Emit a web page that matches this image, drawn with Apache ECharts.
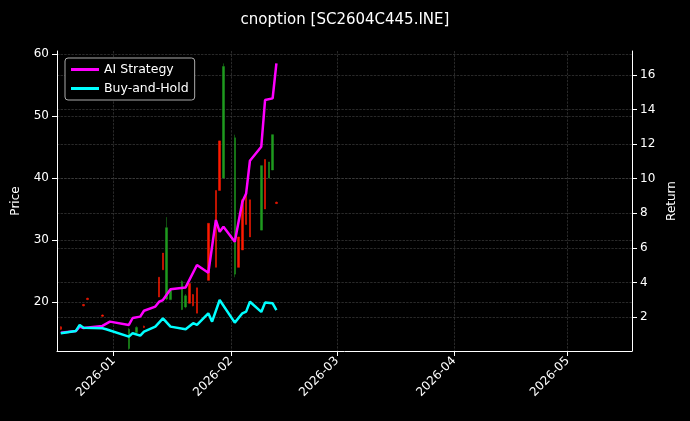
<!DOCTYPE html><html><head><meta charset="utf-8"><script src="https://cdn.jsdelivr.net/npm/echarts@6/dist/echarts.min.js"></script>
<style>html,body{margin:0;background:#000}#c{width:690px;height:421px}</style></head><body><div id="c"></div><script>
const candleDates=['2025-12-18','2025-12-24','2025-12-25','2025-12-29','2026-01-05','2026-01-07','2026-01-09','2026-01-13','2026-01-14','2026-01-15','2026-01-16','2026-01-19','2026-01-20','2026-01-21','2026-01-22','2026-01-23','2026-01-26','2026-01-28','2026-01-29','2026-01-30','2026-02-02','2026-02-03','2026-02-04','2026-02-05','2026-02-06','2026-02-09','2026-02-10','2026-02-11','2026-02-12','2026-02-13'];
// [open, close, low, high]
const candleOHLC=[[16,15.6,15.5,16.1],[19.6,19.4,19.3,19.7],[20.6,20.4,20.3,20.7],[17.9,17.7,17.6,18],[12.5,15.6,12.3,15.8],[15.1,15.9,15,16.1],[16.1,15.9,15.8,16.2],[24,20.8,20.8,24],[27.9,25.2,25.2,27.9],[20.5,32,20.3,33.7],[20.4,22,20.3,22],[18.8,23.3,18.7,23.5],[19.2,21,19,21.3],[23,19.8,19.8,23],[21.2,19.4,19.3,21.3],[22.3,18.2,18.2,22.3],[32.7,23.5,23.5,32.7],[38,25.6,25.6,38],[46,38,38,46],[40,58,40,58.5],[24.5,46.5,24,47],[30.5,25.6,25.6,30.5],[36.5,28.4,28.4,36.5],[37.2,32.5,32.5,37.2],[36.5,30.5,30.5,36.5],[31.6,42,31.6,42],[43,35,35,43],[40,42.6,40,42.6],[41.3,47,41.3,47],[36.1,35.9,35.8,36.2]];
const aiDates=['2025-12-18','2025-12-22','2025-12-23','2025-12-24','2025-12-29','2025-12-31','2026-01-05','2026-01-06','2026-01-08','2026-01-09','2026-01-12','2026-01-13','2026-01-14','2026-01-16','2026-01-20','2026-01-23','2026-01-26','2026-01-28','2026-01-29','2026-01-30','2026-02-02','2026-02-04','2026-02-05','2026-02-06','2026-02-09','2026-02-10','2026-02-12','2026-02-13'];
const aiReturn=[1.09,1.19,1.44,1.36,1.48,1.73,1.54,1.94,2.02,2.36,2.60,2.88,2.98,3.60,3.71,5.01,4.56,7.61,6.93,7.22,6.35,8.67,9.15,11.04,11.85,14.55,14.65,16.67];
const bhDates=['2025-12-18','2025-12-22','2025-12-23','2025-12-24','2025-12-29','2025-12-30','2026-01-05','2026-01-06','2026-01-08','2026-01-09','2026-01-12','2026-01-14','2026-01-16','2026-01-20','2026-01-22','2026-01-23','2026-01-26','2026-01-27','2026-01-29','2026-02-02','2026-02-04','2026-02-05','2026-02-06','2026-02-09','2026-02-10','2026-02-12','2026-02-13'];
const bhReturn=[1.06,1.19,1.54,1.38,1.35,1.29,0.86,1.06,0.92,1.15,1.44,1.92,1.44,1.29,1.64,1.54,2.21,1.73,2.98,1.67,2.21,2.31,2.88,2.29,2.83,2.79,2.40];
const priceTicks=[20,30,40,50,60];
const returnTicks=[2,4,6,8,10,12,14,16];
const ch=echarts.init(document.getElementById('c'));
const grid={lineStyle:{color:'#444',type:'dashed',width:0.6}};
ch.setOption({backgroundColor:'#000',animation:false,
title:{text:'cnoption [SC2604C445.INE]',left:'center',top:8,textStyle:{color:'#fff',fontSize:15,fontWeight:'normal',fontFamily:'DejaVu Sans'}},
legend:{left:65,top:58,orient:'vertical',backgroundColor:'#000',borderColor:'#aaa',borderWidth:1,borderRadius:3,padding:[5,6],itemGap:6,itemWidth:28,itemHeight:3,textStyle:{color:'#fff',fontSize:12.5,fontFamily:'DejaVu Sans'},data:[{name:'AI Strategy',icon:'rect'},{name:'Buy-and-Hold',icon:'rect'}]},
grid:{left:57,right:58,top:51,bottom:70},
xAxis:{type:'time',min:'2025-12-17',max:'2026-05-18',axisLine:{lineStyle:{color:'#fff'}},axisTick:{lineStyle:{color:'#fff'}},
 axisLabel:{color:'#fff',rotate:45,fontSize:12,fontFamily:'DejaVu Sans',formatter:'{yyyy}-{MM}',hideOverlap:true},splitLine:{show:true,...grid}},
yAxis:[{type:'value',min:12.1,max:60.5,name:'Price',nameLocation:'middle',nameGap:35,nameTextStyle:{color:'#fff',fontSize:12,fontFamily:'DejaVu Sans'},
 axisLine:{show:true,lineStyle:{color:'#fff'}},axisTick:{show:true,customValues:priceTicks},axisLabel:{color:'#fff',fontSize:12,customValues:priceTicks,fontFamily:'DejaVu Sans'},splitLine:{show:true,...grid}},
{type:'value',min:0.03,max:17.39,name:'Return',nameLocation:'middle',nameGap:32,nameTextStyle:{color:'#fff',fontSize:12,fontFamily:'DejaVu Sans'},
 axisLine:{show:true,lineStyle:{color:'#fff'}},axisTick:{show:true,customValues:returnTicks},axisLabel:{color:'#fff',fontSize:12,customValues:returnTicks,fontFamily:'DejaVu Sans'},splitLine:{show:true,...grid}}],
series:[{type:'candlestick',name:'Price',yAxisIndex:0,barMaxWidth:2,data:candleDates.map((d,i)=>[d,...candleOHLC[i]]),
 itemStyle:{color:'#1f9a1f',color0:'#ff1a00',borderColor:'#1f9a1f',borderColor0:'#ff1a00',borderWidth:0.5}},
{type:'line',name:'AI Strategy',yAxisIndex:1,symbol:'none',color:'#ff00ff',lineStyle:{width:2.5},data:aiDates.map((d,i)=>[d,aiReturn[i]])},
{type:'line',name:'Buy-and-Hold',yAxisIndex:1,symbol:'none',color:'#00ffff',lineStyle:{width:2.5},data:bhDates.map((d,i)=>[d,bhReturn[i]])}]});
</script></body></html>
